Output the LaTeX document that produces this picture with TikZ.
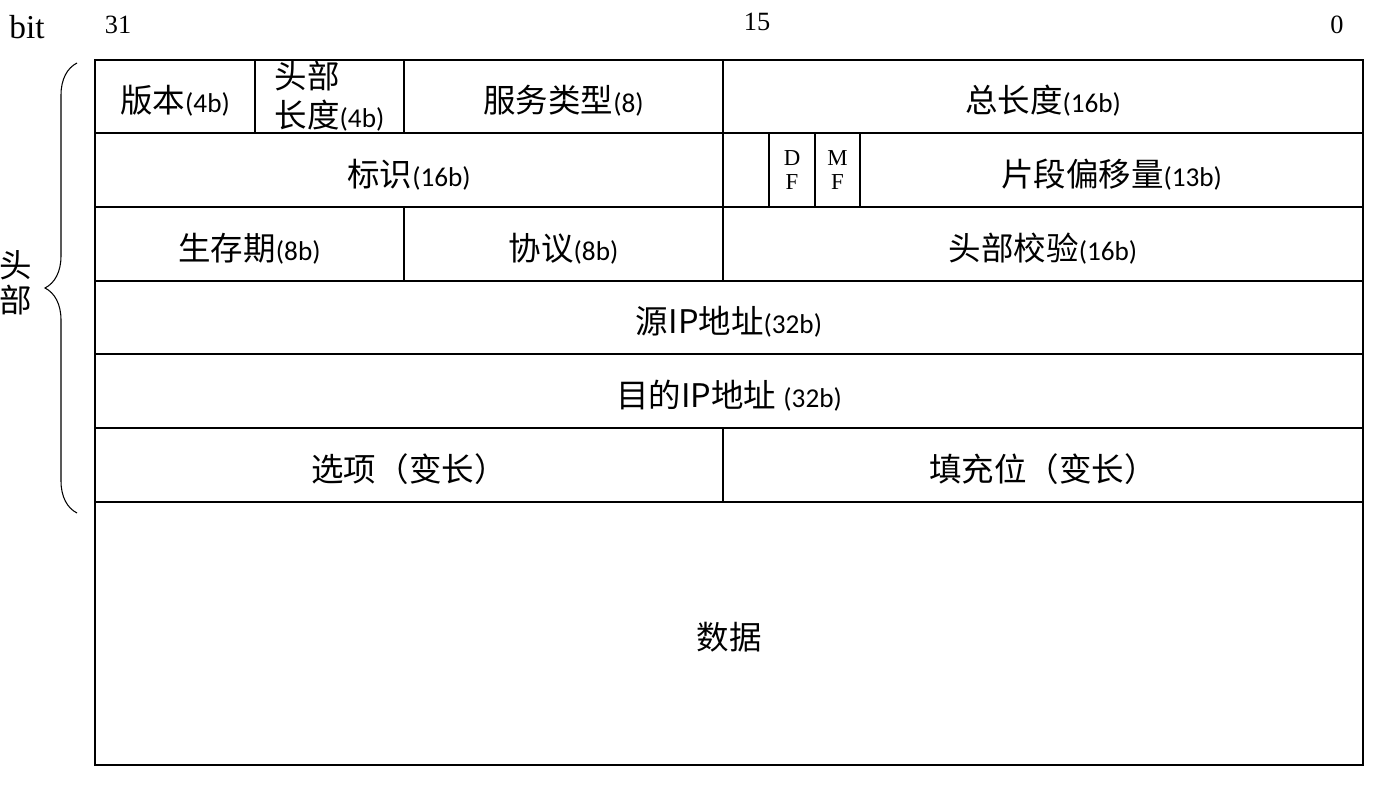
\documentclass[tikz,border=0pt]{standalone}
\usepackage{fontspec}
\setmainfont{Liberation Serif}
\newfontfamily\cjk{Noto Sans CJK SC}
\newfontfamily\calfont{Carlito}
\usetikzlibrary{decorations.pathreplacing}
\newcommand{\bits}[1]{{\calfont\fontsize{15.5}{17}\selectfont #1}}

\begin{document}
\begin{tikzpicture}[
    x=0.02cm, y=-0.02cm,
    cell/.style 2 args = {minimum width=#1*0.02cm, minimum height=#2*0.02cm},
    box/.style   = {draw, line width=0.8pt, inner sep=0pt},
    field/.style = {box, text height=20pt, text depth=1.5pt, font=\cjk\fontsize{18.5}{22}\selectfont},
    flag/.style  = {box, align=center, font=\fontsize{13}{14}\selectfont},
    bitno/.style = {font=\fontsize{15}{17}\selectfont}
]
\useasboundingbox (0,0) rectangle (1382,786);
% bit numbers
\node[font=\fontsize{19}{21}\selectfont] (bit) at (27,27) {bit};
\node[bitno] (b31) at (118,25) {31};
\node[bitno] (b15) at (757,22) {15};
\node[bitno] (b0)  at (1337,25) {0};
% row 1
\node[field, cell={160}{73}] (ver) at (175,96.5) {版本\bits{(4b)}};
\node[box, cell={149}{73}, align=left, font=\cjk\fontsize{18.5}{22}\selectfont] (ihl) at (329.5,96.5) {头部\\长度\bits{(4b)}};
\node[field, cell={319}{73}] (tos) at (563.5,96.5) {服务类型\bits{(8)}};
\node[field, cell={640}{73}] (len) at (1043,96.5) {总长度\bits{(16b)}};
% row 2
\node[field, cell={628}{74}] (id)  at (409,170) {标识\bits{(16b)}};
\node[box,   cell={46}{74}]  (rsv) at (746,170) {};
\node[flag,  cell={46}{74}]  (df)  at (792,170) {D\\F};
\node[flag,  cell={45}{74}]  (mf)  at (837.5,170) {M\\F};
\node[field, cell={503}{74}] (off) at (1111.5,170) {片段偏移量\bits{(13b)}};
% row 3
\node[field, cell={309}{74}] (ttl)   at (249.5,244) {生存期\bits{(8b)}};
\node[field, cell={319}{74}] (proto) at (563.5,244) {协议\bits{(8b)}};
\node[field, cell={640}{74}] (csum)  at (1043,244) {头部校验\bits{(16b)}};
% addresses
\node[field, cell={1268}{73}] (src) at (729,317.5) {源IP地址\bits{(32b)}};
\node[field, cell={1268}{74}] (dst) at (729,391) {目的IP地址 \bits{(32b)}};
% options
\node[field, cell={628}{74}] (opt) at (409,465) {选项（变长）};
\node[field, cell={640}{74}] (pad) at (1043,465) {填充位（变长）};
% payload
\node[field, cell={1268}{263}] (data) at (729,633.5) {数据};
% header brace
\coordinate (htop) at (77,63);
\coordinate (hbot) at (77,513);
\draw[line width=0.6pt, decorate, decoration={brace, amplitude=0.64cm}] (hbot) -- (htop);
\node[font=\cjk\fontsize{18.5}{20}\selectfont, align=center] (hdr) at (16,283) {头\\部};
\end{tikzpicture}
\end{document}
